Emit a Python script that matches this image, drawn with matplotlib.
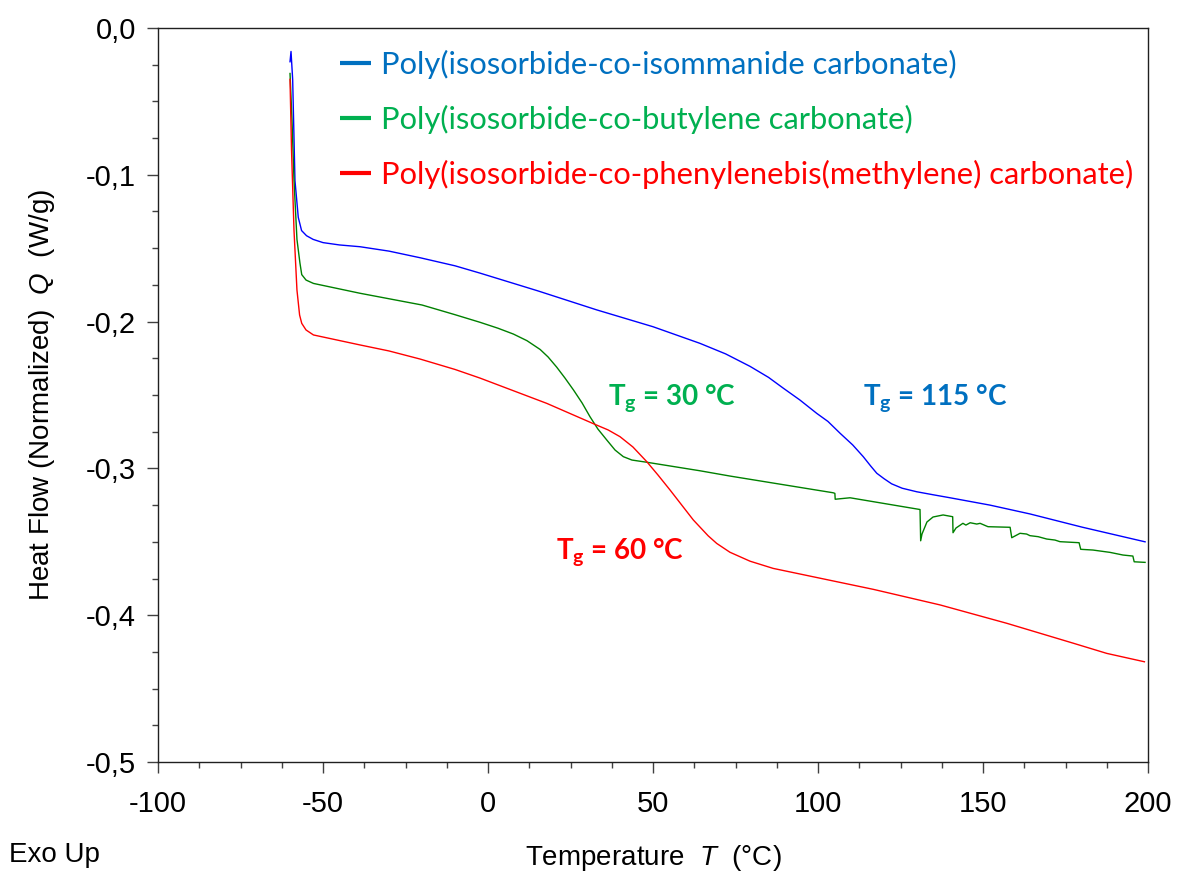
import matplotlib
matplotlib.use("Agg")
import matplotlib.pyplot as plt
from matplotlib.lines import Line2D
from matplotlib.ticker import MultipleLocator, FuncFormatter

plt.rcParams['font.family'] = ['Liberation Sans', 'DejaVu Sans']
plt.rcParams['mathtext.fontset'] = 'custom'
plt.rcParams['mathtext.it'] = 'Liberation Sans:italic'
plt.rcParams['mathtext.bf'] = 'Lato:bold'
plt.rcParams['mathtext.rm'] = 'Lato'

# DSC curves (T in degC, heat flow in W/g)
T_iso = [-60.0, -59.7, -59.2, -58.5, -57.5, -56.5, -55.0, -53.0, -50.0, -45.0, -38.8, -30.0, -20.6, -10.0, -2.4,
         15.0, 32.9, 50.0, 64.2, 72.0, 79.4, 85.0, 89.5, 94.5, 99.6, 103.0, 106.7, 110.5, 113.7,
         116.0, 117.8, 120.0, 122.3, 125.5, 129.9, 135.0, 140.0, 152.1, 164.2, 180.0, 199.1]
Q_iso = [-0.023, -0.016, -0.035, -0.104, -0.129, -0.138, -0.1415, -0.144, -0.1462, -0.1478, -0.149, -0.152, -0.1565, -0.162, -0.167,
         -0.179, -0.192, -0.2035, -0.2148, -0.222, -0.2305, -0.238, -0.2454, -0.2534, -0.2625, -0.268, -0.2761, -0.284, -0.292,
         -0.2985, -0.3033, -0.307, -0.3105, -0.3135, -0.3159, -0.318, -0.320, -0.325, -0.331, -0.340, -0.350]

T_but = [-60.0, -59.4, -58.8, -57.9, -57.0, -56.45, -55.15, -52.9, -38.8, -20.0, -10.0, -2.4,
         3.0, 7.7, 11.8, 15.8, 18.2, 20.8, 23.3, 25.9, 28.5, 30.9, 33.3, 36.0, 38.5, 41.0, 43.6, 48.1,
         64.2, 73.3, 104.6, 105.1, 105.2,
         109.7, 130.9, 131.1, 131.5, 133.0, 134.85, 137.9, 140.8, 140.9, 141.8, 143.9, 144.8,
         146.1, 148.1, 149.1, 151.5, 158.2, 158.7, 161.2, 163.2, 164.2, 166.7, 169.3, 171.8,
         173.3, 179.1, 179.6, 183.3, 188.5, 192.4, 195.4, 195.8, 199.1]
Q_but = [-0.031, -0.063, -0.1035, -0.144, -0.160, -0.168, -0.1717, -0.174, -0.1807, -0.1887, -0.1953, -0.2005,
         -0.2045, -0.2085, -0.213, -0.219, -0.2241, -0.231, -0.2384, -0.2466, -0.2554, -0.2648, -0.2732, -0.2807, -0.2875, -0.292, -0.2943, -0.2958,
         -0.3016, -0.3052, -0.3166, -0.317, -0.321,
         -0.320, -0.328, -0.3493, -0.3447, -0.3365, -0.3331, -0.3317, -0.3329, -0.3438, -0.3406, -0.3374, -0.3386,
         -0.337, -0.3379, -0.3374, -0.3397, -0.3401, -0.3472, -0.3442, -0.3447, -0.3458, -0.3465, -0.3481, -0.3488,
         -0.3499, -0.3506, -0.3551, -0.3556, -0.3572, -0.359, -0.3597, -0.3636, -0.364]

T_phe = [-60.0, -59.55, -58.8, -57.9, -57.1, -56.45, -55.15, -52.9, -38.8, -30.0, -20.6, -10.0, -2.4,
         17.8, 32.4, 36.4, 40.0, 43.9, 48.1, 51.5, 55.15, 62.2, 66.7, 69.3, 73.3, 79.4, 86.4, 96.6, 116.8,
         137.0, 157.2, 167.3, 177.4, 187.5, 198.9]
Q_phe = [-0.035, -0.083, -0.1376, -0.1785, -0.1955, -0.2012, -0.2057, -0.2091, -0.2159, -0.220, -0.2255, -0.2326, -0.2385,
         -0.2557, -0.270, -0.2738, -0.2784, -0.2854, -0.2954, -0.3045, -0.3147, -0.3351, -0.3459, -0.3511, -0.3571, -0.3632, -0.3681, -0.3729, -0.3824,
         -0.393, -0.4055, -0.4123, -0.4191, -0.426, -0.4317]

labels = ['Poly(isosorbide-co-isommanide carbonate)',
          'Poly(isosorbide-co-butylene carbonate)',
          'Poly(isosorbide-co-phenylenebis(methylene) carbonate)']
legend_colors = ['#0070C0', '#00B050', '#FF0000']
tg_texts = ['115', '30', '60']

fig = plt.figure(figsize=(11.81, 8.74), dpi=100)
ax = fig.add_axes([0.1338, 0.1281, 0.8383, 0.8399])

ax.plot(T_iso, Q_iso, color='#0000FF', lw=1.0)
ax.plot(T_but, Q_but, color='#008000', lw=1.0)
ax.plot(T_phe, Q_phe, color='#FF0000', lw=1.0)

ax.set_xlim(-100, 200)
ax.set_ylim(-0.5, 0.0)
ax.xaxis.set_major_locator(MultipleLocator(50))
ax.xaxis.set_minor_locator(MultipleLocator(12.5))
ax.yaxis.set_major_locator(MultipleLocator(0.1))
ax.yaxis.set_minor_locator(MultipleLocator(0.025))
ax.yaxis.set_major_formatter(FuncFormatter(lambda v, p: ('%.1f' % v).replace('.', ',').replace('-0,0', '0,0')))
ax.xaxis.set_major_formatter(FuncFormatter(lambda v, p: '%d' % v))
ax.tick_params(which='major', length=8, width=1, labelsize=21, direction='out', color='#404040', pad=8)
ax.tick_params(which='minor', length=4, width=1, direction='out', color='#404040')
ax.tick_params(axis='x', which='major', pad=12)
for s in ax.spines.values():
    s.set_color('#202020')
    s.set_linewidth(1.0)

ax.set_ylabel('Heat Flow (Normalized)  $\\mathit{Q}$  (W/g)', fontsize=20, labelpad=21)
ax.set_xlabel('Temperature  $\\mathit{T}$  (°C)', fontsize=20, labelpad=18)
fig.text(0.008, 0.022, 'Exo Up', fontsize=20, ha='left', va='center')

handles = [Line2D([0], [0], color=c, lw=3, solid_capstyle='butt') for c in legend_colors]
leg = ax.legend(handles, labels, loc='upper left', bbox_to_anchor=(0.162, 1.0),
                frameon=False, prop={'family': 'Lato', 'size': 22.2},
                handlelength=1.02, handletextpad=0.32, labelspacing=0.84,
                labelcolor=legend_colors, borderaxespad=0.3)

tg_pos = [(113.5, -0.252), (36.3, -0.252), (20.7, -0.357)]
for txt, c, (x, y) in zip(tg_texts, legend_colors, tg_pos):
    ax.text(x, y, '$\\mathbf{T_g}$ = ' + txt + ' °C', color=c, fontsize=20,
            fontweight='bold', family='Lato', ha='left', va='center')

fig.savefig('out.png', dpi=100)
